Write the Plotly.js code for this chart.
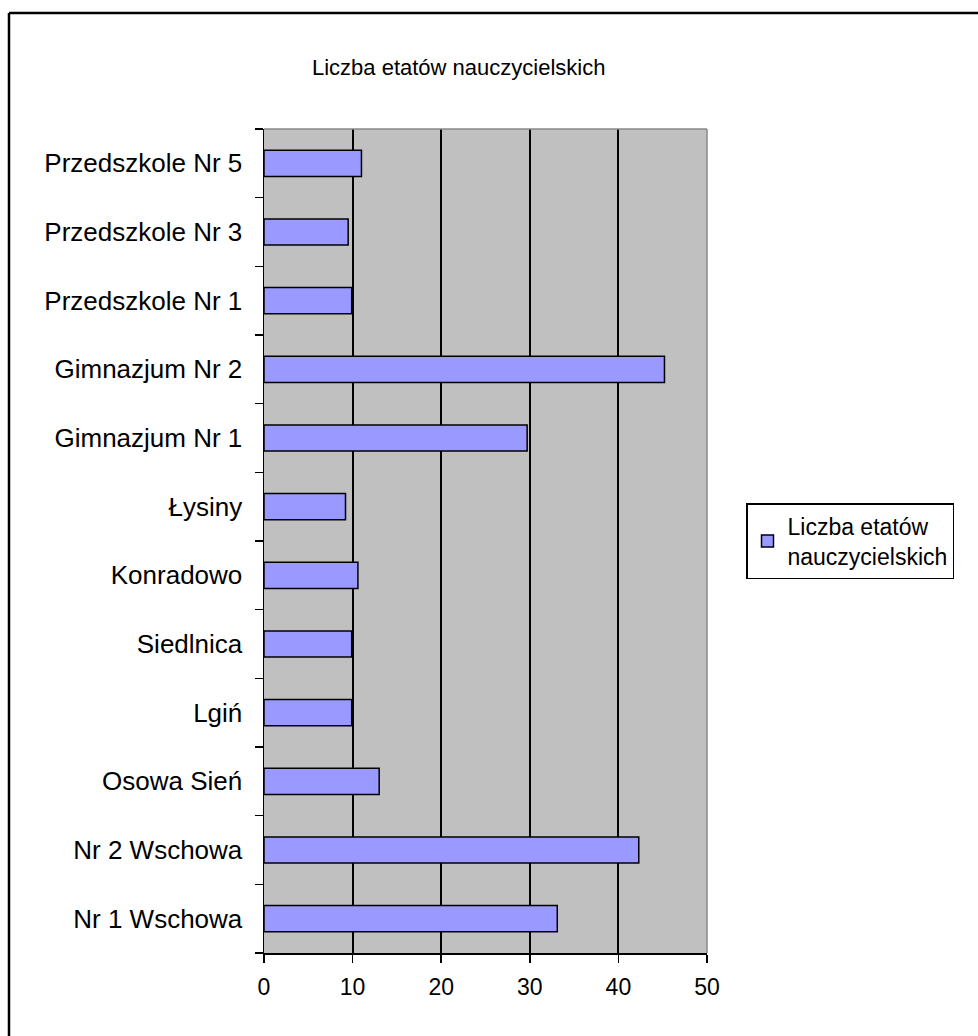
<!DOCTYPE html>
<html>
<head>
<meta charset="utf-8">
<script src="https://cdn.plot.ly/plotly-3.0.1.min.js"></script>
<style>html,body{margin:0;padding:0;background:#fff;}#chart{width:978px;height:1036px;}</style>
</head>
<body>
<div id="chart"></div>
<script>
const categories = ["Nr 1 Wschowa","Nr 2 Wschowa","Osowa Sień","Lgiń","Siedlnica","Konradowo","Łysiny","Gimnazjum Nr 1","Gimnazjum Nr 2","Przedszkole Nr 1","Przedszkole Nr 3","Przedszkole Nr 5"];
const etaty = [33.1, 42.3, 13.0, 9.9, 9.9, 10.6, 9.2, 29.7, 45.2, 9.9, 9.5, 11.0];
const xTicks = [0, 10, 20, 30, 40, 50];
const seriesName = "Liczba etatów<br>nauczycielskich";
const chartTitle = "Liczba etatów nauczycielskich";

const W = 978, H = 1036;
const mL = 264, mR = 271, mT = 129, mB = 83;
const pw = W - mL - mR, ph = H - mT - mB;
const px = v => (v - mL) / pw;
const py = v => 1 - (v - mT) / ph;

const fam = "Liberation Sans, Arial, sans-serif";

const trace = {
  type: "bar",
  orientation: "h",
  y: categories,
  x: etaty,
  name: seriesName,
  marker: {color: "#9999FF", line: {color: "#000", width: 1.5}},
  showlegend: true
};

const layout = {
  width: W, height: H,
  margin: {l: mL, r: mR, t: mT, b: mB},
  paper_bgcolor: "#fff",
  plot_bgcolor: "#C0C0C0",
  font: {family: fam, size: 25, color: "#000"},
  bargap: 0.62,
  title: {text: chartTitle, font: {family: fam, size: 22, color: "#000"}, x: 0.469, xanchor: "center", y: 1 - 67 / H, yanchor: "middle"},
  xaxis: {
    range: [0, 50], tickvals: xTicks, ticktext: xTicks.map(String),
    tickfont: {family: fam, size: 23, color: "#000"},
    showgrid: true, gridcolor: "#000", gridwidth: 2,
    showline: true, linecolor: "#000", linewidth: 1.5,
    ticks: "outside", ticklen: 8, tickwidth: 1.5, tickcolor: "#000",
    zeroline: false, fixedrange: true, ticklabelstandoff: 5
  },
  yaxis: {
    type: "category", categoryorder: "array", categoryarray: categories,
    range: [-0.5, categories.length - 0.5],
    tickfont: {family: fam, size: 26, color: "#000"},
    showgrid: false, showline: true, linecolor: "#000", linewidth: 1.5,
    ticks: "outside", ticklen: 8, tickwidth: 1.5, tickcolor: "#000",
    tickson: "boundaries", zeroline: false, fixedrange: true, ticklabelstandoff: 15
  },
  legend: {
    x: px(746), y: py(503), xanchor: "left", yanchor: "top",
    bgcolor: "#fff", bordercolor: "#000", borderwidth: 1.5,
    font: {family: fam, size: 23, color: "#000"}, itemwidth: 30, tracegroupgap: 0
  },
  shapes: [
    {type: "line", xref: "paper", yref: "paper", x0: 0, x1: 1, y0: 1, y1: 1, line: {color: "#8a8a8a", width: 1.5}},
    {type: "line", xref: "paper", yref: "paper", x0: 1, x1: 1, y0: 0, y1: 1, line: {color: "#8a8a8a", width: 1.5}},
    {type: "line", xref: "paper", yref: "paper", x0: px(9), x1: px(990), y0: py(13), y1: py(13), line: {color: "#000", width: 2.5}},
    {type: "line", xref: "paper", yref: "paper", x0: px(9), x1: px(9), y0: py(13), y1: py(1050), line: {color: "#000", width: 2.5}}
  ]
};

Plotly.newPlot("chart", [trace], layout, {displayModeBar: false, staticPlot: true});
</script>
</body>
</html>
